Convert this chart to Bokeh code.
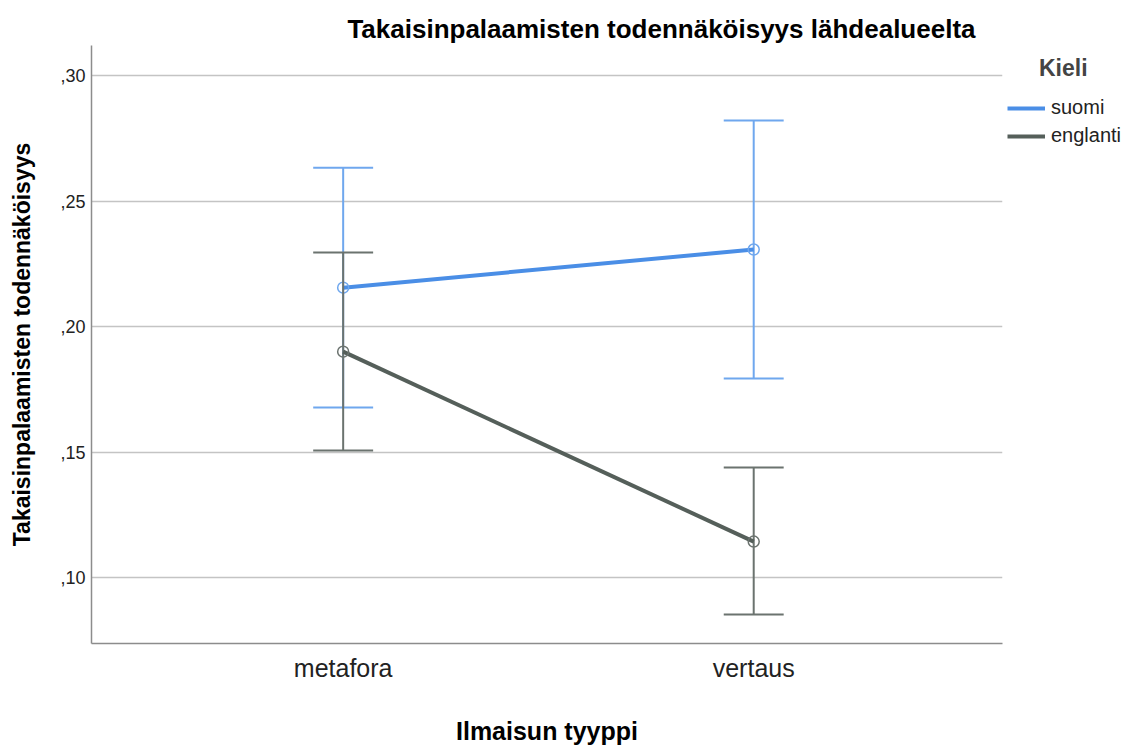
from bokeh.plotting import figure
from bokeh.models import (ColumnDataSource, FixedTicker, CustomJSTickFormatter, Legend, LegendItem, Title)
from bokeh.embed import file_html
from bokeh.resources import INLINE

categories = ["metafora", "vertaus"]
series = ["suomi", "englanti"]
suomi_mean = [0.2155, 0.2307]
suomi_upper = [0.2633, 0.2821]
suomi_lower = [0.1677, 0.1793]
englanti_mean = [0.1900, 0.1143]
englanti_upper = [0.2295, 0.1438]
englanti_lower = [0.1506, 0.0853]
y_ticks = [0.10, 0.15, 0.20, 0.25, 0.30]

FONT = "Liberation Sans"
line_colors = {"suomi": "#4a8ee6", "englanti": "#555f5a"}
bar_colors = {"suomi": "#6fa7ee", "englanti": "#6b736f"}

p = figure(output_backend="svg", toolbar_location=None,
           x_range=(-0.613, 1.606), y_range=(0.0737, 0.312),
           frame_width=911, frame_height=598, min_border_left=91, min_border_right=117,
           min_border_top=45, min_border_bottom=0)
p.title = Title(text="Takaisinpalaamisten todennäköisyys lähdealueelta", align="right", offset=27,
                text_font=FONT, text_font_size="26px", text_font_style="bold", text_color="#000000",
                standoff=4)
p.outline_line_color = None
p.background_fill_color = "white"

xs = list(range(len(categories)))
cap = 0.073
data = {"suomi": (suomi_mean, suomi_lower, suomi_upper),
        "englanti": (englanti_mean, englanti_lower, englanti_upper)}
items = []
for s in series:
    m, lo, up = data[s]
    src = ColumnDataSource(dict(x=xs, m=m, lo=lo, up=up,
                                x0=[x - cap for x in xs], x1=[x + cap for x in xs]))
    p.segment(x0="x", y0="lo", x1="x", y1="up", source=src, line_color=bar_colors[s], line_width=2)
    p.segment(x0="x0", y0="up", x1="x1", y1="up", source=src, line_color=bar_colors[s], line_width=2)
    p.segment(x0="x0", y0="lo", x1="x1", y1="lo", source=src, line_color=bar_colors[s], line_width=2)
    r = p.line(x="x", y="m", source=src, line_color=line_colors[s], line_width=4)
    p.scatter(x="x", y="m", source=src, size=11, fill_color=None, line_color=bar_colors[s], line_width=1.5)
    items.append(LegendItem(label=s, renderers=[r]))

legend = Legend(items=items, location=(5, 496), title="\u00a0\u00a0\u00a0\u00a0\u00a0Kieli",
                title_text_font=FONT, title_text_font_size="23px", title_text_font_style="bold",
                label_text_font=FONT, label_text_font_size="20px", label_text_color="#222222",
                border_line_color=None, background_fill_alpha=0, margin=0, padding=0,
                glyph_width=38, glyph_height=20, label_height=20, spacing=5, title_standoff=14,
                label_standoff=6)
p.add_layout(legend, "right")

p.xaxis.ticker = FixedTicker(ticks=xs)
p.xaxis.major_label_overrides = {i: c for i, c in enumerate(categories)}
p.xaxis.axis_label = "Ilmaisun tyyppi"
p.yaxis.axis_label = "Takaisinpalaamisten todennäköisyys"
p.yaxis.ticker = FixedTicker(ticks=y_ticks)
p.yaxis.formatter = CustomJSTickFormatter(code="return ',' + tick.toFixed(2).split('.')[1];")

for ax in (p.xaxis, p.yaxis):
    ax.axis_line_color = "#8c8c8c"
    ax.axis_line_width = 1.5
    ax.major_tick_line_color = None
    ax.minor_tick_line_color = None
    ax.major_tick_out = 0
    ax.major_tick_in = 0
    ax.minor_tick_out = 0
    ax.axis_label_text_font = FONT
    ax.axis_label_text_font_style = "bold"
    ax.axis_label_text_color = "#000000"
    ax.major_label_text_font = FONT
    ax.major_label_text_color = "#222222"
p.xaxis.axis_label_text_font_size = "25px"
p.yaxis.axis_label_text_font_size = "23px"
p.xaxis.major_label_text_font_size = "25px"
p.yaxis.major_label_text_font_size = "18px"
p.xaxis.major_label_standoff = 10
p.xaxis.axis_label_standoff = 32
p.yaxis.major_label_standoff = 6
p.yaxis.axis_label_standoff = 22

p.xgrid.grid_line_color = None
p.ygrid.grid_line_color = "#c4c4c4"
p.ygrid.grid_line_width = 1.5

open("out.html", "w").write(file_html(p, INLINE))
